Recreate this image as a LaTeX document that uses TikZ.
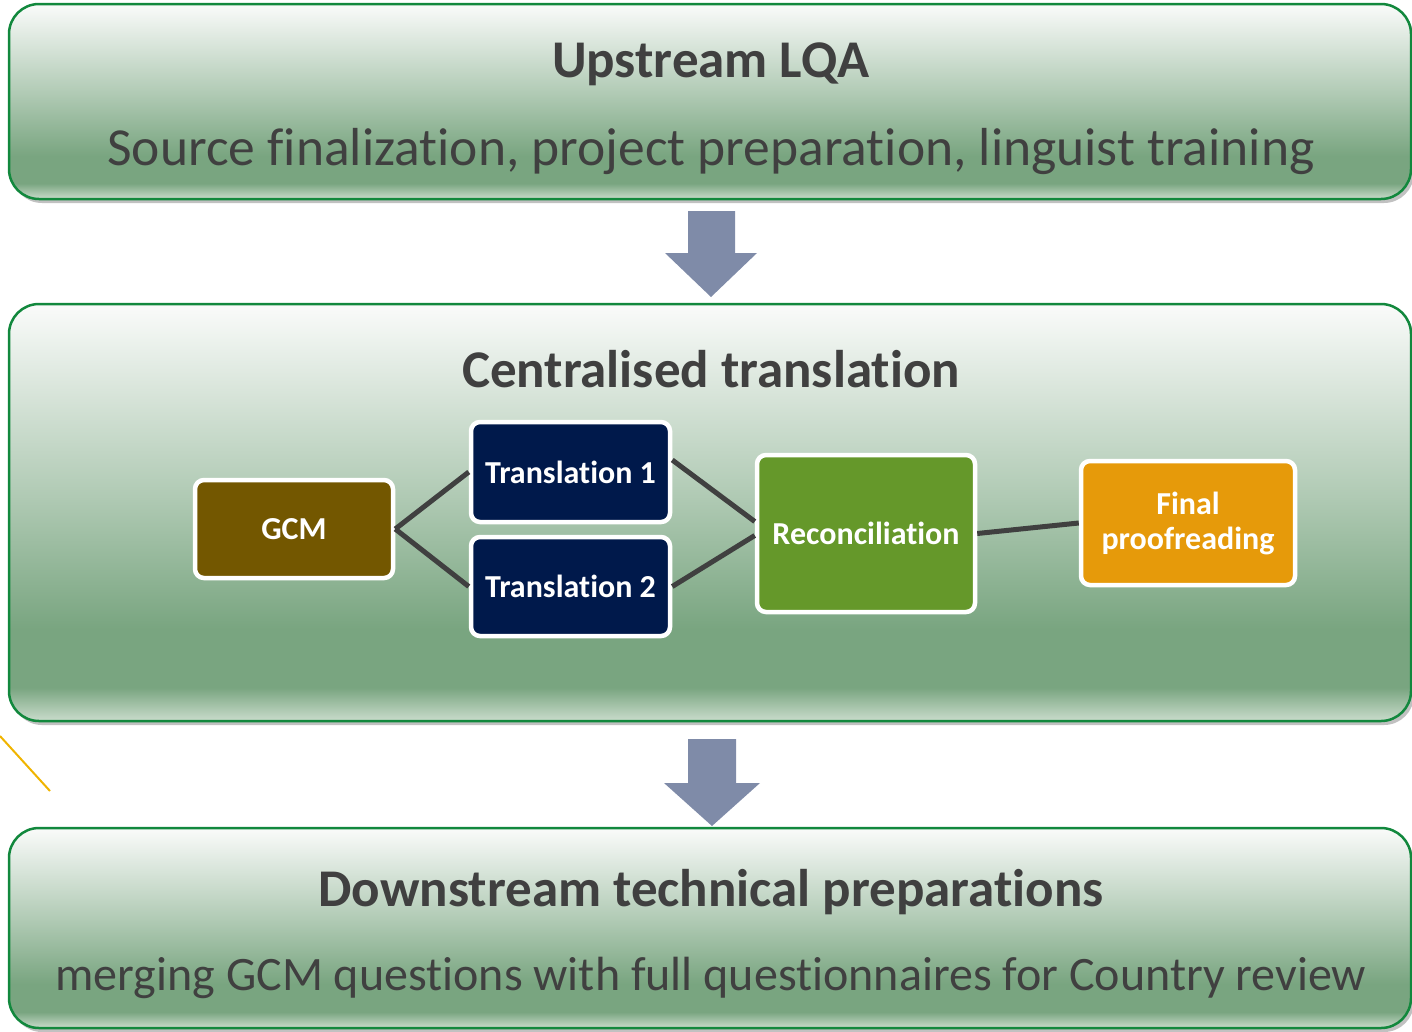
\documentclass[tikz,border=0pt]{standalone}
\usepackage{fontspec}
\setmainfont{Carlito}[Ligatures={NoCommon}]
\usetikzlibrary{shadows}
\definecolor{gTop}{HTML}{FAFBFA}
\definecolor{gMid}{HTML}{B0CAB4}
\definecolor{gDark}{HTML}{79A580}
\definecolor{gBot}{HTML}{CADCCC}
\definecolor{bordergreen}{HTML}{12883D}
\definecolor{txtgrey}{HTML}{404040}
\definecolor{arrowblue}{HTML}{7F8BA8}
\definecolor{gcmfill}{HTML}{735700}
\definecolor{navyfill}{HTML}{00194B}
\definecolor{recfill}{HTML}{65982A}
\definecolor{finfill}{HTML}{E69A0A}
\definecolor{linegrey}{HTML}{404040}
\definecolor{yellowline}{HTML}{F0B400}
\pgfdeclareverticalshading{boxshade}{100bp}{color(0bp)=(gBot); color(25bp)=(gBot); color(29bp)=(gDark); color(36bp)=(gDark); color(52bp)=(gMid); color(75bp)=(gTop); color(100bp)=(gTop)}
\tikzset{
  bigbox/.style={rectangle, rounded corners=30pt, shading=boxshade, draw=bordergreen, line width=2.5pt,
    drop shadow={shadow xshift=3pt, shadow yshift=-4pt, opacity=0.35, fill=black!70}, inner sep=0pt},
  titletext/.style={font=\fontsize{53}{58}\selectfont\bfseries, text=txtgrey, anchor=base, inner sep=0pt},
  subtext/.style={text=txtgrey, anchor=base, inner sep=0pt},
  stepbox/.style={rectangle, rounded corners=9pt, draw=white, line width=4.5pt, text=white,
    font=\fontsize{32}{35}\selectfont\bfseries, align=center, inner sep=0pt},
  link/.style={draw=linegrey, line width=5pt},
  bigarrow/.style={fill=arrowblue}
}
\begin{document}
\begin{tikzpicture}[x=1pt,y=-1pt]
\useasboundingbox (0,0) rectangle (1412,1031);
% big boxes
\node[bigbox, minimum width=1402pt, minimum height=195pt] (b1) at (710,101.5) {};
\node[bigbox, minimum width=1402pt, minimum height=417pt] (b2) at (710,512.5) {};
\node[bigbox, minimum width=1402pt, minimum height=200pt] (b3) at (710,928) {};
% texts
\node[titletext] (t1) at (711,77) {Upstream LQA};
\node[subtext, font=\fontsize{53.5}{58}\selectfont] (s1) at (711,165) {Source finalization, project preparation, linguist training};
\node[titletext] (t2) at (711,387) {Centralised translation};
\node[titletext] (t3) at (711,906) {Downstream technical preparations};
\node[subtext, font=\fontsize{48}{54}\selectfont] (s3) at (711,990) {merging GCM questions with full questionnaires for Country review};
% big arrows
\fill[bigarrow] (688,211) -- (735,211) -- (735,253) -- (757,253) -- (711,297) -- (665,253) -- (688,253) -- cycle;
\fill[bigarrow] (688,739) -- (736,739) -- (736,783) -- (760,783) -- (712,826) -- (664,783) -- (688,783) -- cycle;
% yellow line
\draw[yellowline, line width=2pt] (0,736) -- (50,791);
% inner steps
\node[stepbox, fill=gcmfill, minimum width=198pt, minimum height=98pt] (gcm) at (294,529) {GCM};
\node[stepbox, fill=navyfill, minimum width=199pt, minimum height=100pt] (tr1) at (570.5,472) {Translation 1};
\node[stepbox, fill=navyfill, minimum width=199pt, minimum height=99pt] (tr2) at (570.5,586.5) {Translation 2};
\node[stepbox, fill=recfill, minimum width=218pt, minimum height=157pt] (rec) at (866,533.5) {Reconciliation};
\node[stepbox, fill=finfill, minimum width=214pt, minimum height=124pt] (fin) at (1188,523) {Final\\proofreading};
% connectors
\coordinate (recA) at ([yshift=12pt]rec.west);
\coordinate (recB) at ([yshift=-2pt]rec.west);
\coordinate (tr1A) at ([yshift=12pt]tr1.east);
\path[link] (gcm.east) -- (tr1.west);
\path[link] (gcm.east) -- (tr2.west);
\path[link] (tr1A) -- (recA);
\path[link] (tr2.east) -- (recB);
\path[link] (rec.east) -- (fin.west);
\end{tikzpicture}
\end{document}
